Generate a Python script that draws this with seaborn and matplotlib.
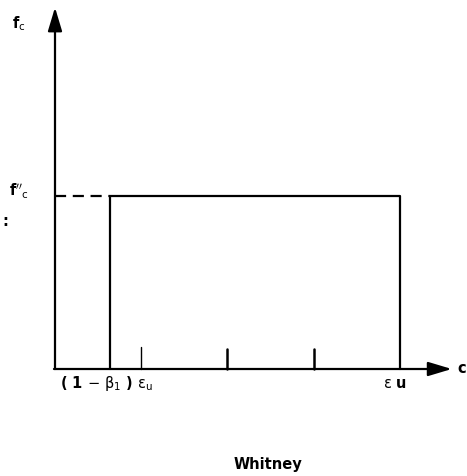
import matplotlib
matplotlib.use("Agg")
import matplotlib.pyplot as plt
import seaborn as sns
import pandas as pd

# Whitney equivalent rectangular stress block (strain normalised to eps_u,
# stress normalised to the block intensity f''_c)
block_start = 0.16          # (1 - beta_1) * eps_u
eps_u = 1.0
block_stress = 1.0
strain_ticks = [0.25, 0.5, 0.75]
axis_top = 2.09
axis_right = 1.15

outline = pd.DataFrame({
    "strain": [block_start, block_start, eps_u, eps_u],
    "stress": [0.0, block_stress, block_stress, 0.0],
})
guide = pd.DataFrame({"strain": [0.0, block_start],
                      "stress": [block_stress, block_stress]})

sns.set_theme(style="white")
plt.rcParams["font.family"] = ["DejaVu Sans"]

fig = plt.figure(figsize=(4.67, 4.77), dpi=100)
# axes spanning the whole figure; origin of the diagram at pixel (55, 370)
ax = fig.add_axes([0, 0, 1, 1])
sx, sy = 345.0, 173.0
ax.set_xlim(-55 / sx, (467 - 55) / sx)
ax.set_ylim(-(477 - 370) / sy, 370 / sy)
ax.axis("off")

sns.lineplot(data=outline, x="strain", y="stress", sort=False,
             estimator=None, color="black", lw=1.6, ax=ax, legend=False)
sns.lineplot(data=guide, x="strain", y="stress", sort=False,
             estimator=None, color="black", lw=1.6, ax=ax, legend=False,
             linestyle=(0, (5, 3)))

# tick marks on the strain axis
for i, t in enumerate(strain_ticks):
    ax.plot([t, t], [0, 0.13 if i == 0 else 0.115], color="black",
            lw=1.0 if i == 0 else 1.8)

# axes with arrow heads
arrow = dict(arrowstyle="-|>,head_length=1.2,head_width=0.36",
             color="black", lw=1.6, mutation_scale=12, shrinkA=0, shrinkB=0)
ax.annotate("", xy=(0, axis_top), xytext=(0, 0), arrowprops=arrow)
ax.annotate("", xy=(axis_right, 0), xytext=(-0.003, 0), arrowprops=arrow)

kw = dict(color="black", fontweight="bold", fontsize=10.5)
ax.text(-0.105, 1.03, r"f$''_{\mathsf{c}}$", ha="center", va="center", **kw)
ax.text(-0.105, 2.0, r"f$_{\mathsf{c}}$", ha="center", va="center", **kw)
ax.text(-0.145, 0.86, ":", ha="center", va="center", **kw)
ax.text(block_start - 0.01, -0.08, r"( 1 $-$ $\mathsf{\beta_1}$ ) $\mathsf{\varepsilon_u}$",
        ha="center", va="center", **kw)
ax.text(eps_u - 0.015, -0.08, r"$\mathsf{\varepsilon}$ u", ha="center",
        va="center", **kw)
ax.text(axis_right + 0.03, 0.01, "c", ha="center", va="center", **kw)
fig.text(268 / 467, 1 - 465 / 477, "Whitney", ha="center", va="center", **kw)

fig.savefig("out.png", dpi=100)
